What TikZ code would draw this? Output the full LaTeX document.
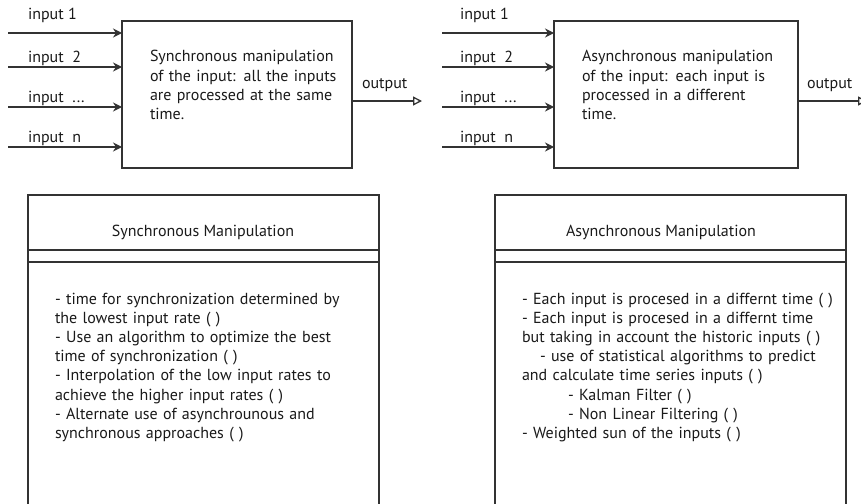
\documentclass[tikz,border=0pt]{standalone}
\usepackage{fontspec}
\setmainfont{PT Sans}
\usetikzlibrary{arrows.meta}
\definecolor{ink}{HTML}{1A1A1A}
\definecolor{edge}{HTML}{333333}
\begin{document}
\begin{tikzpicture}[x=1pt,y=-1pt,
  every node/.style={inner sep=0pt, outer sep=0pt, text=ink,
    font=\fontsize{16}{19.2}\selectfont},
  lbl/.style={anchor=base west},
  para/.style={anchor=base west, align=left, text width=#1},
  title/.style={anchor=base},
  inarrow/.style={draw=edge, line width=1.5pt,
    -{Stealth[length=9pt,width=9pt,inset=3pt]}},
  outarrow/.style={draw=edge, line width=1.3pt,
    -{Triangle[open,length=9pt,width=9pt,fill=white]}},
  blk/.style={draw=edge, line width=1.4pt},
]
\useasboundingbox (0,0) rectangle (861,503);
\fill[white] (0,0) rectangle (861,503);

% ---------- synchronous block ----------
\node[blk, minimum width=230pt, minimum height=147pt, anchor=north west]
  (sync) at (122,21) {};
\coordinate (sa1) at (8,33);
\coordinate (sa2) at (8,67);
\coordinate (sa3) at (8,107);
\coordinate (sa4) at (8,147);
\foreach \i in {1,...,4} \draw[inarrow] (sa\i) -- (sa\i -| sync.west);
\node[lbl] (sl1) at (28,20)  {input 1};
\node[lbl] (sl2) at (28,63)  {input~ 2};
\node[lbl] (sl3) at (28,102) {input~ ...};
\node[lbl] (sl4) at (28,142) {input~ n};
\node[para=200pt] (stxt) at (150,62)
  {Synchronous manipulation\\ of the input: all the inputs\\
   are processed at the same\\ time.};
\coordinate (sout) at (422,101);
\draw[outarrow] (sync.east |- sout) -- (sout);
\node[lbl] (sol) at (362,88) {output};

% ---------- asynchronous block ----------
\node[blk, minimum width=244pt, minimum height=147pt, anchor=north west]
  (async) at (554,21) {};
\coordinate (aa1) at (442,33);
\coordinate (aa2) at (442,67);
\coordinate (aa3) at (442,107);
\coordinate (aa4) at (442,147);
\foreach \i in {1,...,4} \draw[inarrow] (aa\i) -- (aa\i -| async.west);
\node[lbl] (al1) at (460,20)  {input 1};
\node[lbl] (al2) at (460,63)  {input~ 2};
\node[lbl] (al3) at (460,102) {input~ ...};
\node[lbl] (al4) at (460,142) {input~ n};
\node[para=215pt] (atxt) at (582,62)
  {Asynchronous manipulation\\ of the input: each input is\\
   processed in a different\\ time.};
\coordinate (aout) at (867,101);
\draw[outarrow] (async.east |- aout) -- (aout);
\node[lbl] (aol) at (807,88) {output};

% ---------- synchronous class box ----------
\draw[blk] (28,510) -- (28,195) -- (379,195) -- (379,510);
\draw[blk] (28,250) -- (379,250);
\draw[blk] (28,262) -- (379,262);
\node[title] (stitle) at (203,236) {Synchronous Manipulation};
\node[para=320pt] (sbody) at (55,304)
  {- time for synchronization determined by\\
   the lowest input rate ( )\\
   - Use an algorithm to optimize the best\\
   time of synchronization ( )\\
   - Interpolation of the low input rates to\\
   achieve the higher input rates ( )\\
   - Alternate use of asynchrounous and\\
   synchronous approaches ( )};

% ---------- asynchronous class box ----------
\draw[blk] (495,510) -- (495,195) -- (846,195) -- (846,510);
\draw[blk] (495,250) -- (846,250);
\draw[blk] (495,262) -- (846,262);
\node[title] (atitle) at (661,236) {Asynchronous Manipulation};
\node[para=320pt] (abody) at (522,304)
  {- Each input is procesed in a differnt time ( )\\
   - Each input is procesed in a differnt time\\
   but taking in account the historic inputs ( )\\
   \hspace*{18pt}- use of statistical algorithms to predict\\
   and calculate time series inputs ( )\\
   \hspace*{46pt}- Kalman Filter ( )\\
   \hspace*{46pt}- Non Linear Filtering ( )\\
   - Weighted sun of the inputs ( )};
\end{tikzpicture}
\end{document}
